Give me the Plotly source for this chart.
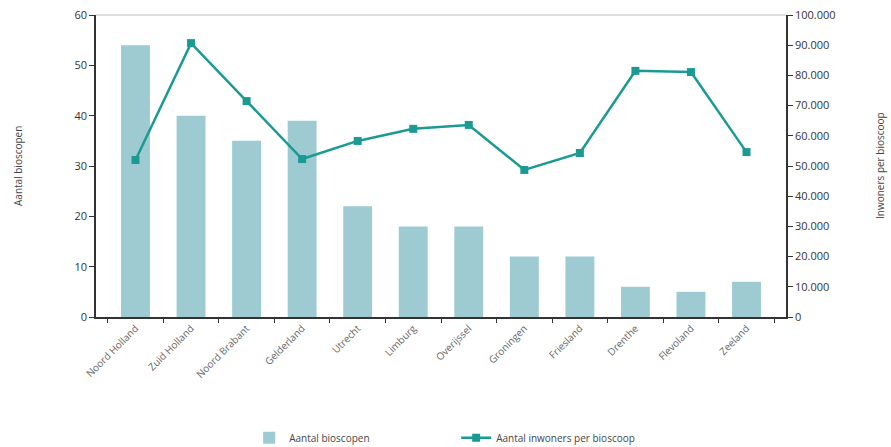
import plotly.graph_objects as go

provinces = ["Noord Holland", "Zuid Holland", "Noord Brabant", "Gelderland", "Utrecht",
             "Limburg", "Overijssel", "Groningen", "Friesland", "Drenthe", "Flevoland", "Zeeland"]
bioscopen = [54, 40, 35, 39, 22, 18, 18, 12, 12, 6, 5, 7]
inwoners_per_bioscoop = [52000, 90700, 71500, 52300, 58300, 62300, 63600, 48700, 54300, 81500, 81100, 54600]

font_family = "Open Sans, Lato, sans-serif"
text_color = "#555555"

fig = go.Figure()
fig.add_trace(go.Bar(
    x=provinces, y=bioscopen, name="Aantal bioscopen",
    marker=dict(color="#9dcbd1", line=dict(width=0)), width=0.52, yaxis="y",
))
fig.add_trace(go.Scatter(
    x=provinces, y=inwoners_per_bioscoop, name="Aantal inwoners per bioscoop",
    mode="lines+markers", yaxis="y2",
    line=dict(color="#1b9a94", width=2.5),
    marker=dict(symbol="square", size=8, color="#1b9a94"),
))

fig.update_layout(
    width=891, height=447,
    margin=dict(l=96, r=105, t=15, b=130, autoexpand=False),
    paper_bgcolor="white", plot_bgcolor="white",
    font=dict(family=font_family, color=text_color, size=11),
    separators=",.",
    xaxis=dict(
        showline=True, linecolor="#333333", linewidth=1.5,
        ticks="outside", ticklen=4, tickcolor="#333333", tickson="boundaries",
        tickangle=-45, tickfont=dict(size=10, color="#666666"),
        showgrid=False, automargin=False,
    ),
    yaxis=dict(
        range=[0, 60], dtick=10, showgrid=False,
        showline=True, linecolor="#333333", linewidth=1.5,
        ticks="outside", ticklen=5, tickcolor="#333333",
        tickfont=dict(size=11, color="#333333"),
        zeroline=False, automargin=False,
    ),
    yaxis2=dict(
        range=[0, 100000], dtick=10000, overlaying="y", side="right",
        tickformat=",d", showgrid=False,
        showline=True, linecolor="#333333", linewidth=1.5,
        ticks="outside", ticklen=5, tickcolor="#333333",
        tickfont=dict(size=11, color="#333333"),
        zeroline=False, automargin=False,
    ),
    legend=dict(
        orientation="h", x=0.222, xanchor="left", y=-0.4, yanchor="middle",
        font=dict(size=10, color="#444444"), entrywidth=162,
        itemwidth=30,
    ),
    showlegend=True,
)
fig.add_annotation(text="Aantal bioscopen", xref="paper", yref="paper",
                   x=-(96 - 18) / 690, y=0.5, textangle=-90, showarrow=False,
                   font=dict(size=10, color="#444444"), xanchor="center", yanchor="middle")
fig.add_annotation(text="Inwoners per bioscoop", xref="paper", yref="paper",
                   x=1 + (880 - 786) / 690, y=0.5, textangle=-90, showarrow=False,
                   font=dict(size=10, color="#444444"), xanchor="center", yanchor="middle")
fig.add_shape(type="line", xref="paper", yref="paper", x0=0, x1=1, y0=1, y1=1,
              line=dict(color="#bbbbbb", width=1))

fig.write_html("out.html", config={"displayModeBar": False},
               post_script="document.body.style.margin='0';document.body.style.overflow='hidden';")
